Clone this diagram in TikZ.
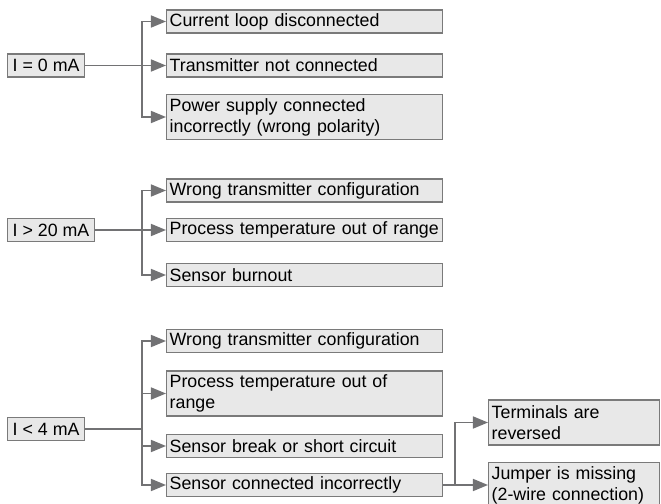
\documentclass[tikz,border=0pt]{standalone}
\usepackage{fontspec}
\setmainfont{Liberation Sans}
\usetikzlibrary{arrows.meta}
\definecolor{boxfill}{HTML}{E8E8E8}
\definecolor{boxline}{HTML}{7A7A7A}
\definecolor{linkgray}{HTML}{727274}

\begin{document}
\begin{tikzpicture}[
  x=0.5pt, y=-0.5pt,
  every node/.style={font=\fontsize{8.9}{10.5}\selectfont, anchor=west},
  current/.style={draw=boxline, fill=boxfill, line width=0.7pt,
    inner xsep=2.5pt, inner ysep=1pt, minimum height=11.5pt},
  cause/.style={draw=boxline, fill=boxfill, line width=0.7pt,
    text width=135pt, inner xsep=1.5pt, inner ysep=1pt, align=left,
    minimum height=11.5pt},
  cause2/.style={cause, minimum height=22.5pt},
  subcause/.style={cause2, text width=82.5pt},
  link/.style={draw=linkgray, line width=0.8pt,
    -{Triangle[length=7.5pt,width=6pt]}}
]
\useasboundingbox (0,0) rectangle (661,504);
\coordinate (br) at (142,0);
\coordinate (bs) at (455,0);

\node[current] (I0) at (7,65.5) {I = 0 mA};
\node[cause] (loop) at (166,21.5) {Current loop disconnected};
\node[cause] (notcon) at (166,65.5) {Transmitter not connected};
\node[cause2] (polar) at (166,117) {Power supply connected\\incorrectly (wrong polarity)};

\node[current] (I20) at (7,230) {I > 20 mA};
\node[cause] (conf20) at (166,190.5) {Wrong transmitter configuration};
\node[cause] (temp20) at (166,230) {\mbox{Process temperature out of range}};
\node[cause] (burn) at (166,275) {Sensor burnout};

\node[current] (I4) at (7,429) {I < 4 mA};
\node[cause] (conf4) at (166,341) {Wrong transmitter configuration};
\node[cause2] (temp4) at (166,393.5) {Process temperature out of\\range};
\node[cause] (short) at (166,446) {Sensor break or short circuit};
\node[cause] (wiring) at (166,485) {Sensor connected incorrectly};
\node[subcause] (term) at (488,422.5) {Terminals are\\reversed};
\node[subcause] (jump) at (488,485) {Jumper is missing\\(2-wire connection)};

\foreach \c in {loop,notcon,polar}
  \draw[link] (I0.east) -- (I0.east -| br) |- (\c.west);
\foreach \c in {conf20,temp20,burn}
  \draw[link] (I20.east) -- (I20.east -| br) |- (\c.west);
\foreach \c in {conf4,temp4,short,wiring}
  \draw[link] (I4.east) -- (I4.east -| br) |- (\c.west);
\foreach \c in {term,jump}
  \draw[link] (wiring.east) -- (wiring.east -| bs) |- (\c.west);
\end{tikzpicture}
\end{document}
